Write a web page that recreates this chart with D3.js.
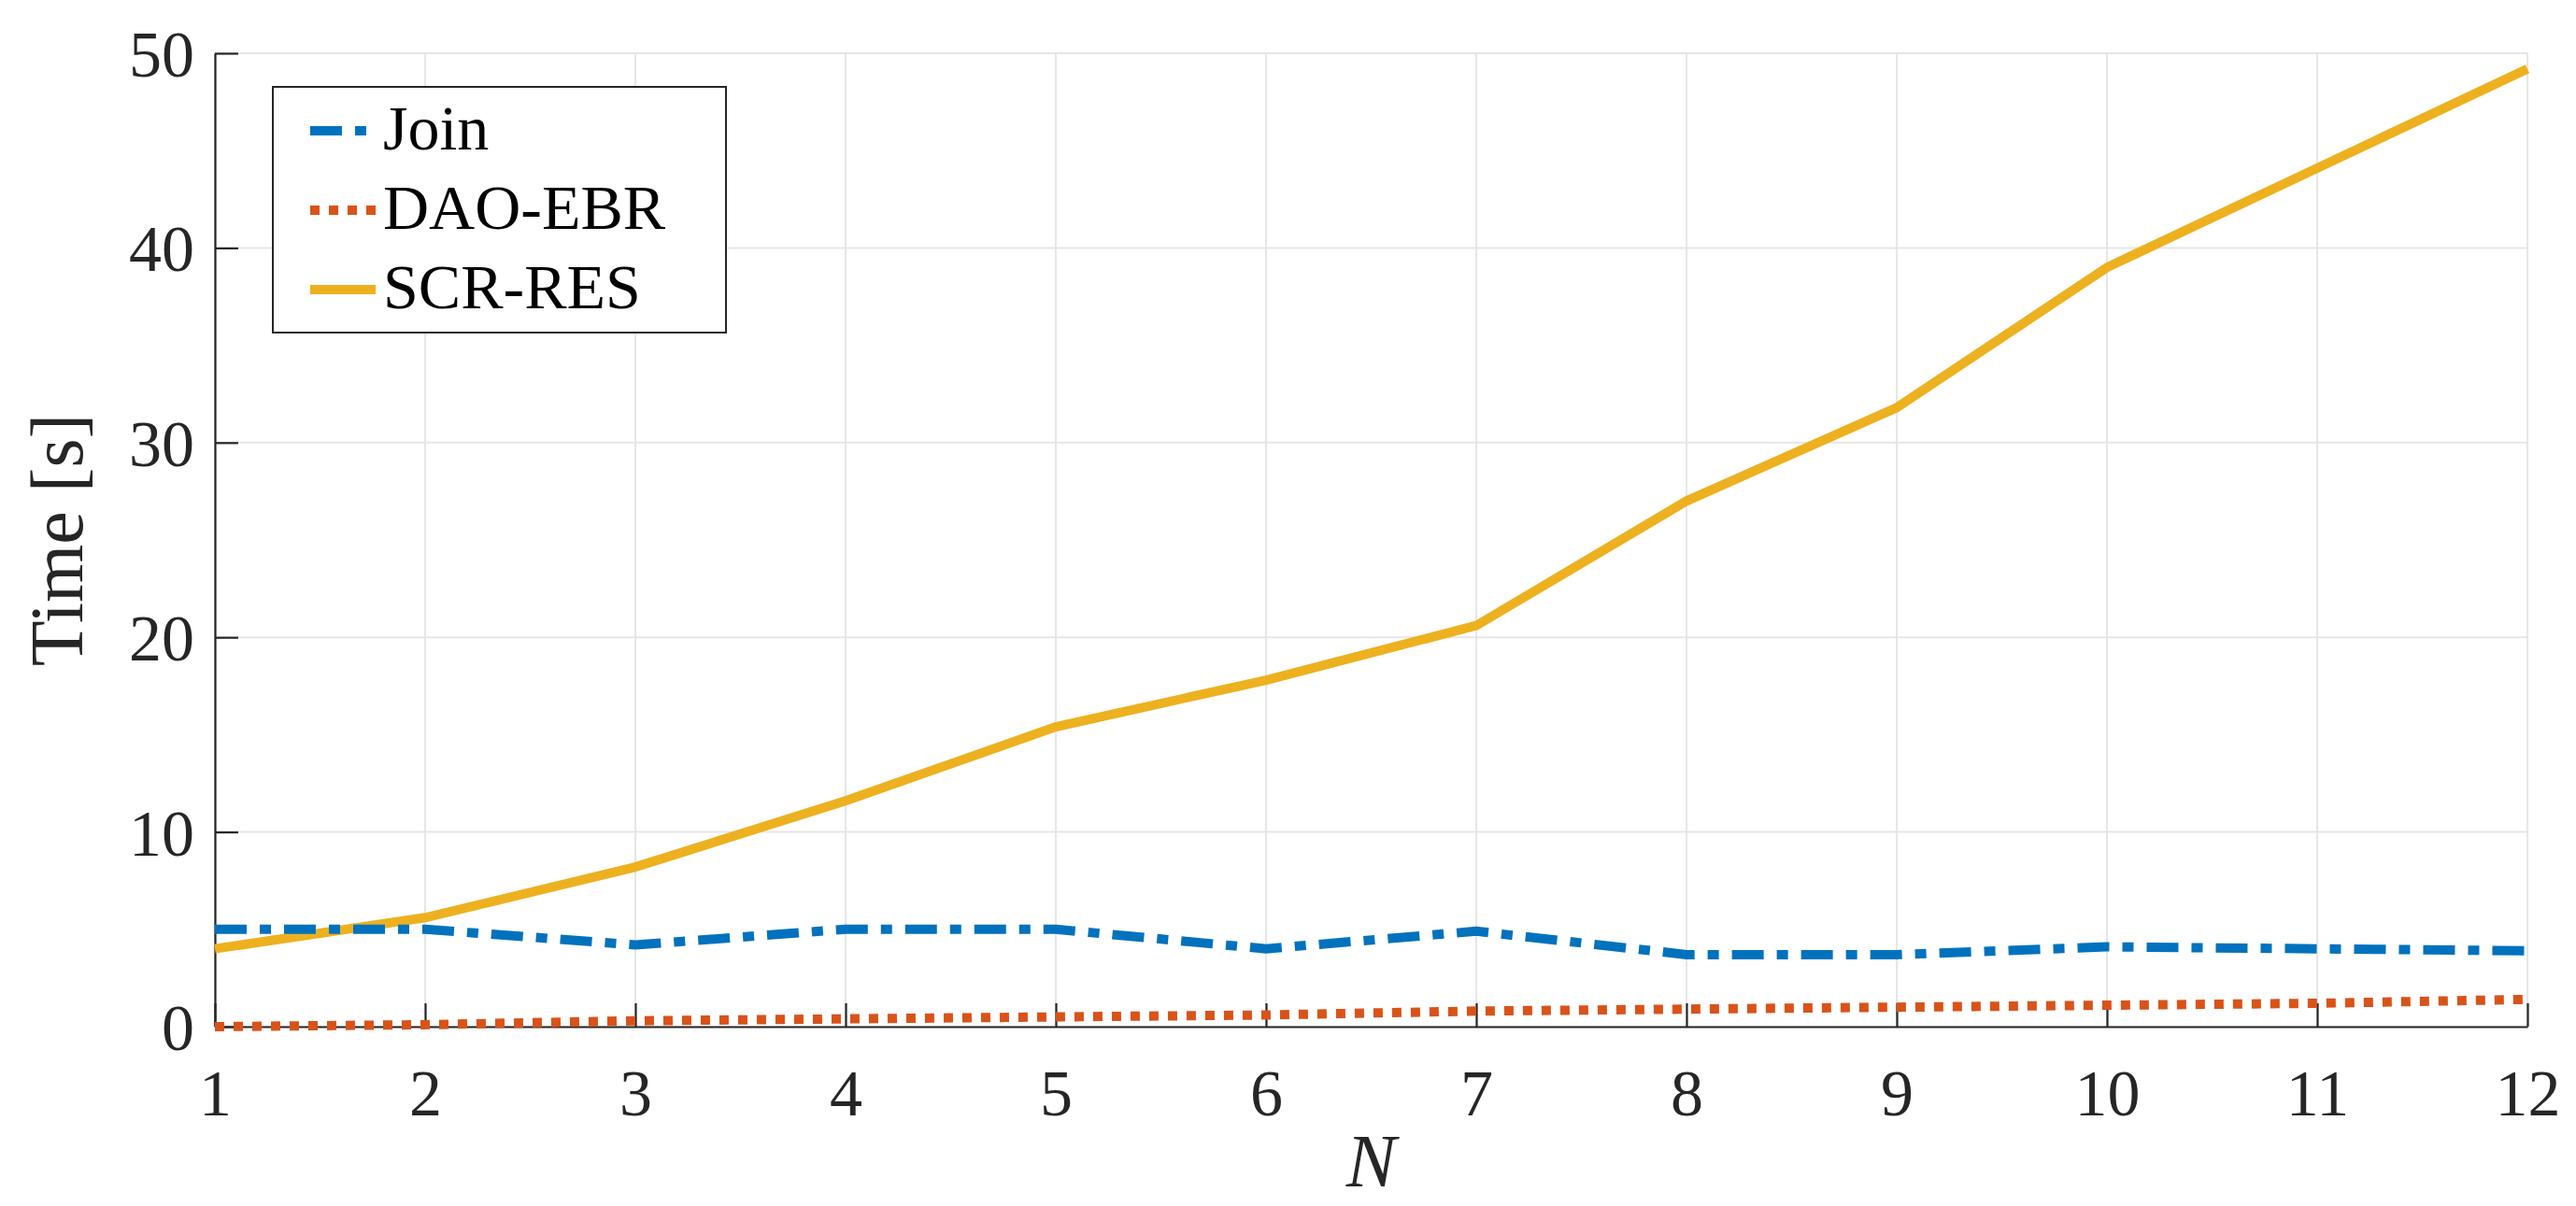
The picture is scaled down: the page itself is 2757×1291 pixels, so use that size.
<!DOCTYPE html>
<html><head><meta charset="utf-8">
<script src="https://cdn.jsdelivr.net/npm/d3@7"></script>
<style>body{margin:0;background:#fff}</style></head>
<body><svg id="c" width="2757" height="1291"></svg>
<script>
const nValues = [1,2,3,4,5,6,7,8,9,10,11,12];
const joinTimes = [5.0,5.0,4.2,5.0,5.0,4.0,4.9,3.7,3.7,4.1,4.0,3.9];
const daoTimes = [0.0,0.1,0.3,0.4,0.5,0.6,0.8,0.9,1.0,1.1,1.2,1.4];
const scrTimes = [4.0,5.6,8.2,11.6,15.4,17.8,20.6,27.0,31.8,39.0,44.1,49.2];
const yTicks = [0,10,20,30,40,50];
const seriesNames = ["Join","DAO-EBR","SCR-RES"];

const svg = d3.select("#c");
const L=230,R=2705,T=57,B=1099;
const font = "'Liberation Serif','Times New Roman','DejaVu Serif',serif";
const x = d3.scaleLinear().domain([1,12]).range([L,R]);
const y = d3.scaleLinear().domain([0,50]).range([B,T]);

const g = svg.append("g");
g.selectAll(".gx").data(nValues).join("line").attr("x1",d=>x(d)).attr("x2",d=>x(d)).attr("y1",T).attr("y2",B).attr("stroke","#e6e6e6").attr("stroke-width",2);
g.selectAll(".gy").data(yTicks).join("line").attr("y1",d=>y(d)).attr("y2",d=>y(d)).attr("x1",L).attr("x2",R).attr("stroke","#e6e6e6").attr("stroke-width",2);

const xa = svg.append("g").attr("transform",`translate(0,${B})`).call(d3.axisBottom(x).tickValues(nValues).tickSizeInner(-25).tickSizeOuter(0).tickPadding(45));
const ya = svg.append("g").attr("transform",`translate(${L},0)`).call(d3.axisLeft(y).tickValues(yTicks).tickSizeInner(-25).tickSizeOuter(0).tickPadding(22));
[xa,ya].forEach(a=>{a.selectAll("path,line").attr("stroke","#262626").attr("stroke-width",2.2);
 a.selectAll("text").attr("font-family",font).attr("font-size",70).attr("fill","#262626");});
ya.selectAll("text").attr("dy","0.35em");

const colors = ["#0072bd","#d95319","#edb120"];
const dashes = ["34,14,12,14","10,10",null];
const data = [joinTimes,daoTimes,scrTimes];
const line = d3.line().x((d,i)=>x(nValues[i])).y(d=>y(d));
[2,0,1].forEach(k=>{
  svg.append("path").datum(data[k]).attr("d",line).attr("fill","none").attr("stroke",colors[k])
   .attr("stroke-width",10).attr("stroke-dasharray",dashes[k]);
});

svg.append("text").attr("x",(L+R)/2).attr("y",1270).attr("text-anchor","middle").attr("font-family",font).attr("font-style","italic").attr("font-size",80).attr("fill","#262626").text("N");
svg.append("text").attr("transform",`translate(88,${(T+B)/2}) rotate(-90)`).attr("text-anchor","middle").attr("font-family",font).attr("font-size",80).attr("fill","#262626").text("Time [s]");

const lg = svg.append("g");
lg.append("rect").attr("x",292).attr("y",93).attr("width",485).attr("height",263).attr("fill","#fff").attr("stroke","#262626").attr("stroke-width",2);
seriesNames.forEach((n,i)=>{
  const cy = 140+i*85;
  lg.append("line").attr("x1",332).attr("x2",402).attr("y1",cy).attr("y2",cy).attr("stroke",colors[i]).attr("stroke-width",10).attr("stroke-dasharray",dashes[i]);
  lg.append("text").attr("x",410).attr("y",cy+20).attr("font-family",font).attr("font-size",68).attr("fill","#000").text(n);
});
</script></body></html>
